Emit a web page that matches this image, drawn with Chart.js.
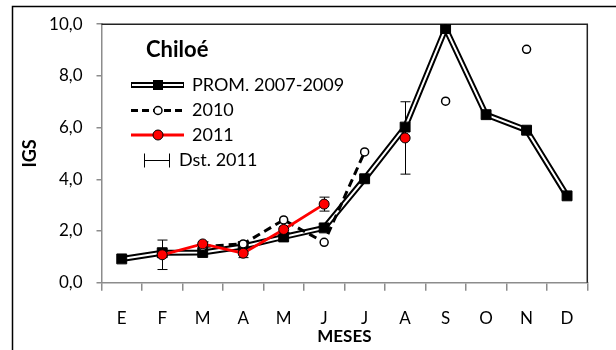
<!DOCTYPE html>
<html>
<head>
<meta charset="utf-8">
<script src="https://cdn.jsdelivr.net/npm/chart.js@4.4.0/dist/chart.umd.min.js"></script>
<style>
    html, body { margin: 0; padding: 0; background: #fff; }
    #wrap { width: 616px; height: 350px; }
</style>
</head>
<body>
<div id="wrap"><canvas id="igsChart" width="616" height="350"></canvas></div>
<script>
// Meses (eje X)
const months = ['E', 'F', 'M', 'A', 'M', 'J', 'J', 'A', 'S', 'O', 'N', 'D'];

// IGS promedio 2007-2009
const prom = [0.92, 1.16, 1.17, 1.40, 1.77, 2.12, 4.02, 6.02, 9.83, 6.50, 5.90, 3.36];

// IGS 2010 (sin muestreo en E, F, A, O, D)
const igs2010 = [null, null, 1.40, 1.50, 2.43, 1.56, 5.06, null, 7.02, null, 9.03, null];

// IGS 2011 y su desviación estándar
const igs2011 = [null, 1.08, 1.50, 1.14, 2.06, 3.04, null, 5.60, null, null, null, null];
const dst2011 = [null, 0.57, 0.08, 0.17, 0.12, 0.27, null, 1.40, null, null, null, null];

// Ticks eje Y
const yTicks = [0, 2, 4, 6, 8, 10];

const FONT = 'Lato, "Open Sans", sans-serif';

function fmt(v) {
    return v.toFixed(1).replace('.', ',');
}

// Bordes del área de gráfico, marco exterior y leyenda
const framePlugin = {
    id: 'frame',
    beforeDatasetsDraw(chart) {
        const { ctx, chartArea } = chart;
        ctx.save();
        ctx.strokeStyle = '#222';
        ctx.lineWidth = 1.5;
        ctx.beginPath();
        ctx.moveTo(chartArea.left, chartArea.top);
        ctx.lineTo(chartArea.right, chartArea.top);
        ctx.lineTo(chartArea.right, chartArea.bottom);
        ctx.stroke();
        ctx.restore();
    },
    afterDatasetDraw(chart, args) {
        // barras de error justo debajo de la serie 2011
        if (args.index !== 2) return;
        const { ctx } = chart;
        const x = chart.scales.x;
        const y = chart.scales.y;
        ctx.save();
        ctx.strokeStyle = '#000';
        ctx.lineWidth = 1;
        igs2011.forEach((v, i) => {
            if (v === null || dst2011[i] === null) return;
            const px = Math.round(x.getPixelForValue(i)) + 0.5;
            const top = y.getPixelForValue(v + dst2011[i]);
            const bot = y.getPixelForValue(v - dst2011[i]);
            ctx.beginPath();
            ctx.moveTo(px, top);
            ctx.lineTo(px, bot);
            ctx.moveTo(px - 5, top);
            ctx.lineTo(px + 5, top);
            ctx.moveTo(px - 5, bot);
            ctx.lineTo(px + 5, bot);
            ctx.stroke();
        });
        ctx.restore();
    },
    afterDraw(chart) {
        const ctx = chart.ctx;
        ctx.save();

        // marco exterior
        ctx.strokeStyle = '#000';
        ctx.lineWidth = 1.5;
        ctx.beginPath();
        ctx.moveTo(12.5, 350);
        ctx.lineTo(12.5, 6.5);
        ctx.lineTo(616, 6.5);
        ctx.stroke();

        // titulo de la leyenda
        ctx.fillStyle = '#000';
        ctx.textBaseline = 'middle';
        ctx.textAlign = 'left';
        ctx.font = 'bold 22px ' + FONT;
        ctx.fillText('Chiloé', 146, 50);

        const x0 = 131, x1 = 184, xm = 158;
        ctx.font = '18px ' + FONT;

        // PROM. 2007-2009
        let yy = 85;
        ctx.strokeStyle = '#000';
        ctx.lineWidth = 6;
        ctx.beginPath(); ctx.moveTo(x0, yy); ctx.lineTo(x1, yy); ctx.stroke();
        ctx.strokeStyle = '#fff';
        ctx.lineWidth = 2;
        ctx.beginPath(); ctx.moveTo(x0 + 1, yy); ctx.lineTo(x1 - 1, yy); ctx.stroke();
        ctx.fillStyle = '#000';
        ctx.fillRect(xm - 5, yy - 5, 10, 10);
        ctx.fillText('PROM. 2007-2009', 192, yy);

        // 2010
        yy = 110.5;
        ctx.strokeStyle = '#000';
        ctx.lineWidth = 3;
        ctx.setLineDash([7, 4]);
        ctx.beginPath(); ctx.moveTo(x0, yy); ctx.lineTo(x1, yy); ctx.stroke();
        ctx.setLineDash([]);
        ctx.fillStyle = '#fff';
        ctx.lineWidth = 1.5;
        ctx.beginPath(); ctx.arc(xm, yy, 4, 0, Math.PI * 2); ctx.fill(); ctx.stroke();
        ctx.fillStyle = '#000';
        ctx.fillText('2010', 192, yy);

        // 2011
        yy = 135;
        ctx.strokeStyle = '#ff0000';
        ctx.lineWidth = 3;
        ctx.beginPath(); ctx.moveTo(x0, yy); ctx.lineTo(x1, yy); ctx.stroke();
        ctx.fillStyle = '#ff0000';
        ctx.strokeStyle = '#000';
        ctx.lineWidth = 1;
        ctx.beginPath(); ctx.arc(xm, yy, 5, 0, Math.PI * 2); ctx.fill(); ctx.stroke();
        ctx.fillStyle = '#000';
        ctx.fillText('2011', 192, yy);

        // Dst. 2011
        yy = 160.5;
        ctx.strokeStyle = '#000';
        ctx.lineWidth = 1;
        ctx.beginPath();
        ctx.moveTo(144.5, yy); ctx.lineTo(169.5, yy);
        ctx.moveTo(144.5, yy - 7); ctx.lineTo(144.5, yy + 7);
        ctx.moveTo(169.5, yy - 7); ctx.lineTo(169.5, yy + 7);
        ctx.stroke();
        ctx.fillText('Dst. 2011', 179, yy);

        ctx.restore();
    }
};

const ctx = document.getElementById('igsChart').getContext('2d');

new Chart(ctx, {
    type: 'line',
    data: {
        labels: months,
        datasets: [
            {
                // linea doble: borde negro
                label: 'PROM. 2007-2009',
                data: prom,
                borderColor: '#000',
                borderWidth: 6,
                pointRadius: 0,
                order: 4
            },
            {
                // linea doble: centro blanco + cuadrados
                label: 'PROM. 2007-2009 centro',
                data: prom,
                borderColor: '#fff',
                borderWidth: 2,
                pointStyle: 'rect',
                pointRadius: 7,
                pointBackgroundColor: '#000',
                pointBorderColor: '#000',
                pointBorderWidth: 1,
                order: 3
            },
            {
                label: '2010',
                data: igs2010,
                borderColor: '#000',
                borderWidth: 3,
                borderDash: [8, 5],
                pointRadius: 4,
                pointBackgroundColor: '#fff',
                pointBorderColor: '#000',
                pointBorderWidth: 1.5,
                spanGaps: false,
                order: 2
            },
            {
                label: '2011',
                data: igs2011,
                borderColor: '#ff0000',
                borderWidth: 2.8,
                pointRadius: 5,
                pointBackgroundColor: '#ff0000',
                pointBorderColor: '#000',
                pointBorderWidth: 1,
                spanGaps: false,
                order: 1
            }
        ]
    },
    options: {
        responsive: false,
        animation: false,
        devicePixelRatio: 1,
        layout: {
            padding: { left: 19, right: 28.7, top: 24, bottom: 0 }
        },
        plugins: {
            legend: { display: false },
            tooltip: { enabled: false }
        },
        scales: {
            x: {
                offset: true,
                afterFit(scale) { scale.height = 67.3; },
                grid: {
                    offset: true,
                    drawOnChartArea: false,
                    drawTicks: true,
                    tickLength: 8,
                    color: '#8c8c8c',
                    lineWidth: 1.5
                },
                border: { color: '#8c8c8c', width: 1.5 },
                ticks: {
                    color: '#000',
                    padding: 18,
                    font: { family: FONT, size: 17 }
                },
                title: {
                    display: true,
                    text: 'MESES',
                    color: '#000',
                    padding: { top: 0, bottom: 3 },
                    font: { family: FONT, size: 17, weight: 'bold' }
                }
            },
            y: {
                min: 0,
                max: 10,
                afterFit(scale) { scale.width = 82.5; },
                afterBuildTicks(scale) {
                    scale.ticks = yTicks.map(v => ({ value: v }));
                },
                grid: {
                    drawOnChartArea: false,
                    drawTicks: true,
                    tickLength: 5,
                    color: '#8c8c8c',
                    lineWidth: 1.5
                },
                border: { color: '#8c8c8c', width: 1.5 },
                ticks: {
                    color: '#000',
                    padding: 14,
                    font: { family: FONT, size: 17 },
                    callback: v => fmt(v)
                },
                title: {
                    display: true,
                    text: 'IGS',
                    color: '#000',
                    padding: 0,
                    font: { family: FONT, size: 18, weight: 'bold' }
                }
            }
        }
    },
    plugins: [framePlugin]
});
</script>
</body>
</html>
